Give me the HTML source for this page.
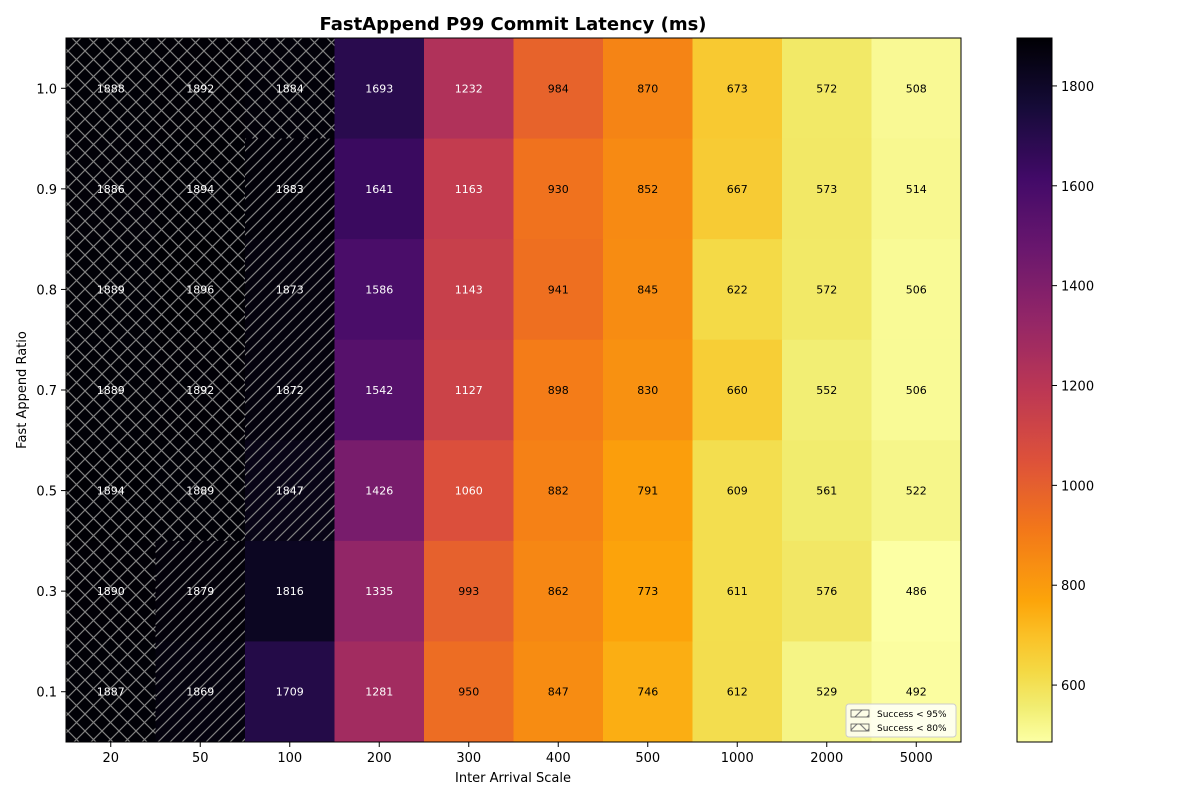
<!DOCTYPE html>
<html><head><meta charset="utf-8"><style>
html,body{margin:0;padding:0;background:#fff;}
svg{display:block;font-family:"DejaVu Sans","Liberation Sans",sans-serif;}
</style></head><body>
<svg id="s" width="1200" height="800" xmlns="http://www.w3.org/2000/svg">
<defs>
<pattern id="hd" width="12" height="12" patternUnits="userSpaceOnUse">
<path d="M-1,13 L13,-1 M-7,7 L7,-7 M5,19 L19,5" stroke="#808080" stroke-width="1.2"/>
</pattern>
<pattern id="hx" width="17" height="17" patternUnits="userSpaceOnUse">
<path d="M0,17 L17,0 M0,0 L17,17" stroke="#808080" stroke-width="1.2"/>
</pattern>
<linearGradient id="cb" x1="0" y1="1" x2="0" y2="0"></linearGradient>
</defs>
<text x="513" y="30" font-size="18" font-weight="bold" text-anchor="middle">FastAppend P99 Commit Latency (ms)</text>
<g id="cells"></g>
<rect x="66" y="38" width="895" height="704" fill="none" stroke="#000" stroke-width="1"/>
<g id="axes" font-size="13"></g>
<text x="513" y="782" font-size="13" text-anchor="middle">Inter Arrival Scale</text>
<text transform="translate(26,390) rotate(-90)" font-size="13" text-anchor="middle">Fast Append Ratio</text>
<rect x="1017" y="38" width="35" height="704" fill="url(#cb)" stroke="#000" stroke-width="1"/>
<g id="cbt" font-size="13"></g>
<g>
<rect x="846" y="704" width="110" height="33" rx="3" fill="#fff" fill-opacity="0.8" stroke="#ccc"/>
<rect x="851" y="710" width="18" height="7" fill="url(#hd)" stroke="#555" stroke-width="0.8"/>
<rect x="851" y="724" width="18" height="7" fill="url(#hx)" stroke="#555" stroke-width="0.8"/>
<text x="877" y="717" font-size="9">Success &lt; 95%</text>
<text x="877" y="731" font-size="9">Success &lt; 80%</text>
</g>
</svg>
<script>
var stops=[[0,"#000004"],[0.1,"#160b39"],[0.2,"#420a68"],[0.3,"#6a176e"],[0.4,"#932667"],[0.5,"#bc3754"],[0.6,"#dd513a"],[0.7,"#f37819"],[0.8,"#fca50a"],[0.85,"#fac127"],[0.9,"#f4d944"],[0.95,"#f1ed71"],[1,"#fcffa4"]];
function h2r(h){return [parseInt(h.substr(1,2),16),parseInt(h.substr(3,2),16),parseInt(h.substr(5,2),16)];}
function cm(t){t=Math.max(0,Math.min(1,t));var i=0;while(i<stops.length-2&&t>stops[i+1][0])i++;
var f=(t-stops[i][0])/(stops[i+1][0]-stops[i][0]);var a=h2r(stops[i][1]),b=h2r(stops[i+1][1]);
return "rgb("+[0,1,2].map(k=>Math.round(a[k]+(b[k]-a[k])*f)).join(",")+")";}
var vmin=486,vmax=1896;function col(v){return cm(1-(v-vmin)/(vmax-vmin));}
var D=[[1888,1892,1884,1693,1232,984,870,673,572,508],
[1886,1894,1883,1641,1163,930,852,667,573,514],
[1889,1896,1873,1586,1143,941,845,622,572,506],
[1889,1892,1872,1542,1127,898,830,660,552,506],
[1894,1889,1847,1426,1060,882,791,609,561,522],
[1890,1879,1816,1335,993,862,773,611,576,486],
[1887,1869,1709,1281,950,847,746,612,529,492]];
var H={"0,0":"x","0,1":"x","0,2":"x","1,0":"x","1,1":"x","2,0":"x","2,1":"x","3,0":"x","3,1":"x","4,0":"x","4,1":"x","5,0":"x","6,0":"x",
"1,2":"d","2,2":"d","3,2":"d","4,2":"d","5,1":"d","6,1":"d"};
var g=document.getElementById("cells"),s="";
var cw=89.5,ch=704/7;
for(var r=0;r<7;r++)for(var c=0;c<10;c++){var v=D[r][c],x=66+c*cw,y=38+r*ch;
s+='<rect x="'+x+'" y="'+y+'" width="'+(cw+0.5)+'" height="'+(ch+0.5)+'" fill="'+col(v)+'"/>';
var hh=H[r+","+c];if(hh)s+='<rect x="'+x+'" y="'+y+'" width="'+cw+'" height="'+ch+'" fill="url(#h'+hh+')"/>';
s+='<text x="'+(x+cw/2)+'" y="'+(y+ch/2+4)+'" font-size="11" text-anchor="middle" fill="'+(v>=1000?"#fff":"#000")+'">'+v+'</text>';}
g.innerHTML=s;
var xl=["20","50","100","200","300","400","500","1000","2000","5000"],yl=["1.0","0.9","0.8","0.7","0.5","0.3","0.1"],a="";
for(var c=0;c<10;c++){var x=66+c*cw+cw/2;a+='<line x1="'+x+'" y1="742" x2="'+x+'" y2="747" stroke="#000"/><text x="'+x+'" y="762" text-anchor="middle">'+xl[c]+'</text>';}
for(var r=0;r<7;r++){var y=38+r*ch+ch/2;a+='<line x1="61" y1="'+y+'" x2="66" y2="'+y+'" stroke="#000"/><text x="57" y="'+(y+5)+'" text-anchor="end">'+yl[r]+'</text>';}
document.getElementById("axes").innerHTML=a;
var gr=document.getElementById("cb"),gs="";for(var i=0;i<=80;i++){gs+='<stop offset="'+(i/80)+'" stop-color="'+cm(1-i/80)+'"/>';}gr.innerHTML=gs;
var t="";for(var v=600;v<=1800;v+=200){var y=742-(v-vmin)/(vmax-vmin)*704;t+='<line x1="1052" y1="'+y+'" x2="1057" y2="'+y+'" stroke="#000"/><text x="1061" y="'+(y+5)+'">'+v+'</text>';}
document.getElementById("cbt").innerHTML=t;
</script>
</body></html>
